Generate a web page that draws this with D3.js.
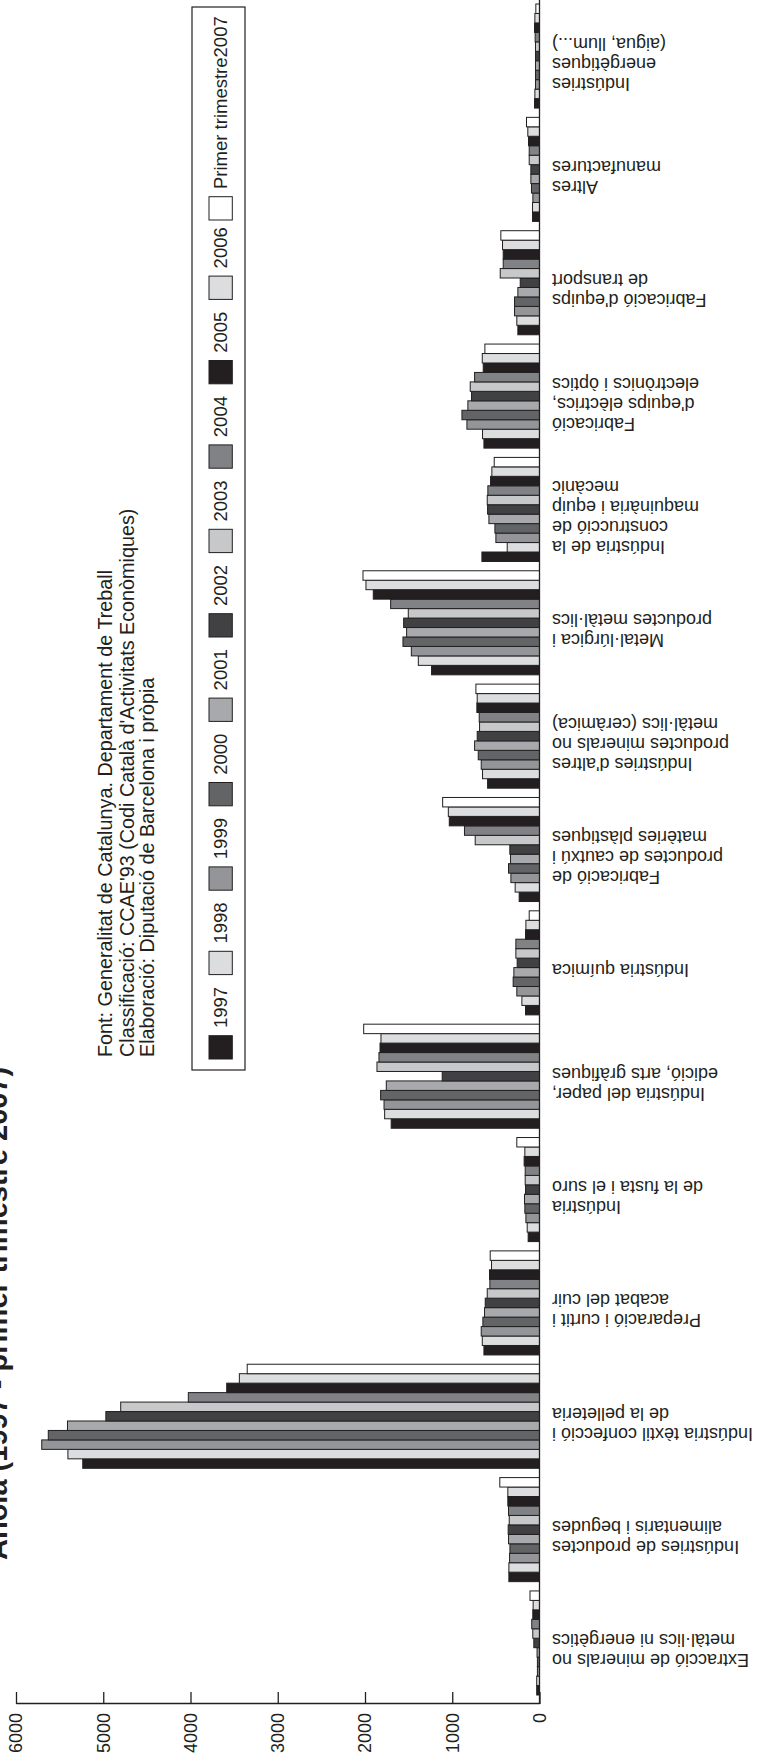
<!DOCTYPE html>
<html>
<head>
<meta charset="utf-8">
<script src="https://cdn.jsdelivr.net/npm/d3@7/dist/d3.min.js"></script>
<style>
  html, body { margin: 0; padding: 0; background: #fff; }
  svg { display: block; }
  text { font-family: "Liberation Sans", Arial, Helvetica, sans-serif; fill: #231f20; }
</style>
</head>
<body>
<div id="chart"></div>
<script>
// ---------- DATA ----------
const categories = [
  ["Extracció de minerals no", "metàl·lics ni energètics"],
  ["Indústries de productes", "alimentaris i begudes"],
  ["Indústria tèxtil confecció i", "de la pelleteria"],
  ["Preparació i curtit i", "acabat del cuir"],
  ["Indústria", "de la fusta i el suro"],
  ["Indústria del paper,", "edició, arts gràfiques"],
  ["Indústria química"],
  ["Fabricació de", "productes de cautxú i", "matèries plàstiques"],
  ["Indústries d'altres", "productes minerals no", "metàl·lics (ceràmica)"],
  ["Metal·lúrgica i", "productes metàl·lics"],
  ["Indústria de la", "construcció de", "maquinària i equip", "mecànic"],
  ["Fabricació", "d'equips elèctrics,", "electrònics i òptics"],
  ["Fabricació d'equips", "de transport"],
  ["Altres", "manufactures"],
  ["Indústries", "energètiques", "(aigua, llum...)"]
];

const seriesNames = ["1997","1998","1999","2000","2001","2002","2003","2004","2005","2006","Primer trimestre2007"];

const v1997 = [32, 351, 5235, 637, 130, 1700, 160, 233, 595, 1237, 660, 637, 248, 80, 57];
const v1998 = [32, 351, 5405, 656, 141, 1775, 202, 279, 653, 1389, 370, 653, 260, 80, 53];
const v1999 = [24, 343, 5705, 668, 156, 1782, 260, 328, 668, 1469, 500, 832, 286, 76, 46];
const v2000 = [24, 339, 5630, 649, 168, 1821, 302, 355, 702, 1565, 511, 889, 286, 92, 46];
const v2001 = [28, 355, 5410, 630, 172, 1756, 294, 332, 744, 1523, 580, 821, 248, 99, 46];
const v2002 = [65, 359, 4970, 622, 160, 1115, 256, 340, 714, 1557, 595, 779, 221, 99, 46];
const v2003 = [77, 347, 4800, 599, 164, 1863, 271, 737, 687, 1504, 599, 794, 450, 118, 46];
const v2004 = [89, 355, 4025, 569, 164, 1840, 271, 860, 691, 1706, 592, 744, 416, 118, 50];
const v2005 = [77, 363, 3585, 573, 176, 1828, 160, 1034, 718, 1905, 561, 645, 416, 126, 57];
const v2006 = [73, 363, 3440, 550, 168, 1817, 156, 1045, 714, 1989, 546, 656, 424, 134, 53];
const v2007 = [109, 455, 3350, 565, 260, 2015, 118, 1110, 729, 2023, 519, 626, 443, 149, 42];

const seriesValues = [v1997, v1998, v1999, v2000, v2001, v2002, v2003, v2004, v2005, v2006, v2007];

const seriesColors = ["#231f20","#dcddde","#939598","#636466","#a7a9ac","#414042",
                      "#c7c8ca","#808285","#231f20","#dcddde","#ffffff"];

const yTicks = [0, 1000, 2000, 3000, 4000, 5000, 6000];

const titleText = "Anoia (1997 - primer trimestre 2007)";
const sourceLines = [
  "Font: Generalitat de Catalunya. Departament de Treball",
  "Classificació: CCAE'93 (Codi Català d'Activitats Econòmiques)",
  "Elaboració: Diputació de Barcelona i pròpia"
];

// ---------- LAYOUT (drawn in an unrotated frame, then turned -90°) ----------
const SW = 759, SH = 1757;       // screen size
const W = SH, H = SW;            // frame size before rotation

const svg = d3.select("#chart").append("svg")
  .attr("width", SW).attr("height", SH)
  .style("background", "#fff");

const g = svg.append("g").attr("transform", `translate(0,${SH}) rotate(-90)`);

const axisX = 53;
const x0 = d3.scaleBand()
  .domain(d3.range(categories.length))
  .range([62, 1753])
  .paddingInner(0.082)
  .paddingOuter(0);

const x1 = d3.scaleBand()
  .domain(d3.range(seriesNames.length))
  .range([0, x0.bandwidth()])
  .padding(0);

const y = d3.scaleLinear().domain([0, 6000]).range([539.5, 16]);

// title
g.append("text")
  .attr("x", 197).attr("y", 7)
  .style("font-size", "29px").style("font-weight", "bold")
  .text(titleText);

// source
g.selectAll("text.src").data(sourceLines).enter().append("text")
  .attr("class", "src")
  .attr("x", 700)
  .attr("y", (d, i) => [112, 134, 154][i])
  .style("font-size", "19.8px")
  .text(d => d);

// legend
g.append("rect")
  .attr("x", 687).attr("y", 192).attr("width", 1063).attr("height", 53)
  .attr("fill", "none").attr("stroke", "#231f20").attr("stroke-width", 1.2);

const legendPos = seriesNames.map((d, i) => i < 10 ? 698 + i * 84.4 : 1537);
const leg = g.selectAll("g.leg").data(seriesNames).enter().append("g")
  .attr("class", "leg")
  .attr("transform", (d, i) => `translate(${legendPos[i]},209)`);
leg.append("rect")
  .attr("width", 23.3).attr("height", 23.3)
  .attr("fill", (d, i) => seriesColors[i])
  .attr("stroke", "#231f20").attr("stroke-width", 1);
leg.append("text")
  .attr("x", 31).attr("y", 18)
  .style("font-size", "18.5px")
  .text(d => d);

// bars
const groups = g.selectAll("g.cat").data(categories).enter().append("g")
  .attr("class", "cat")
  .attr("transform", (d, i) => `translate(${x0(i)},0)`);

groups.selectAll("rect").data((d, ci) => seriesValues.map((vals, si) => ({si, v: vals[ci]})))
  .enter().append("rect")
  .attr("x", d => x1(d.si))
  .attr("y", d => y(d.v))
  .attr("width", x1.bandwidth())
  .attr("height", d => y(0) - y(d.v))
  .attr("fill", d => seriesColors[d.si])
  .attr("stroke", "#231f20")
  .attr("stroke-width", 1);

// value axis
const yAxis = d3.axisLeft(y).tickValues(yTicks).tickFormat(d3.format("d"))
  .tickSizeInner(-12).tickSizeOuter(0).tickPadding(9);
const ya = g.append("g").attr("transform", `translate(${axisX},0)`).call(yAxis);
ya.selectAll("path, line").attr("stroke", "#231f20").attr("stroke-width", 1.3);
ya.selectAll("text").style("font-size", "18px")
  .style("font-family", '"Liberation Sans", Arial, sans-serif').attr("fill", "#231f20");

// baseline (category axis)
g.append("line")
  .attr("x1", axisX).attr("x2", W)
  .attr("y1", y(0)).attr("y2", y(0))
  .attr("stroke", "#231f20").attr("stroke-width", 1.3);

// category labels
const lineH = 20;
const labels = g.selectAll("g.lab").data(categories).enter().append("g")
  .attr("class", "lab")
  .attr("transform", (d, i) => `translate(${x0(i) + x0.bandwidth() / 2},${y(0) + 12.5}) rotate(-90)`);
labels.append("text")
  .attr("text-anchor", "end")
  .style("font-size", "18px")
  .each(function(d) {
    const n = d.length;
    d3.select(this).selectAll("tspan").data(d).enter().append("tspan")
      .attr("x", 0)
      .attr("y", (t, i) => (i - (n - 1) / 2) * lineH - 8 + 6.5)
      .text(t => t);
  });
</script>
</body>
</html>
